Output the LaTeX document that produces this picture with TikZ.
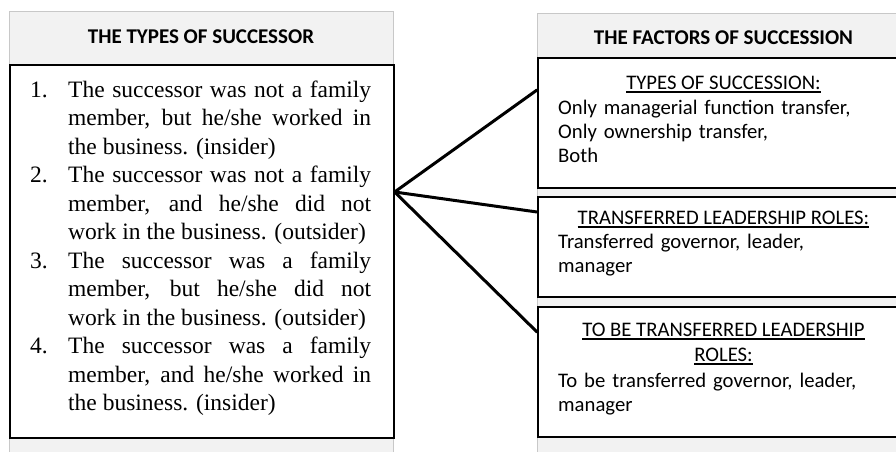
\documentclass[tikz,border=0pt]{standalone}
\usepackage{fontspec}
\setmainfont{Liberation Serif}
\newfontfamily\calib{Carlito}
\definecolor{panelfill}{HTML}{F2F2F2}
\definecolor{panelline}{HTML}{C8C8C8}
\newcommand\ulbox[1]{\setbox0\hbox{#1}\rlap{\rule[-3.5pt]{\wd0}{1.4pt}}\box0}
\newcommand\itemline[2]{\noindent\hangindent=38pt\hangafter=1\makebox[38pt][l]{#1}#2\par}
\begin{document}
\begin{tikzpicture}[x=1pt,y=-1pt,
  panel/.style={fill=panelfill,draw=panelline,line width=1pt},
  whitebox/.style={fill=white,draw=black,line width=1.6pt,rectangle,inner sep=0pt,anchor=north west},
  head/.style={font=\calib\bfseries\fontsize{21}{24}\selectfont,anchor=base,inner sep=0pt},
  body/.style={font=\calib\fontsize{20.7}{24}\selectfont,inner sep=0pt},
  conn/.style={line width=3pt,line cap=round}]
\useasboundingbox (0,0) rectangle (896,452);
\clip (0,0) rectangle (896,452);
% panels
\draw[panel] (9,12) rectangle (393,470);
\draw[panel] (537,14) rectangle (930,470);
\node[head] (lhead) at (201,44) {THE TYPES OF SUCCESSOR};
\node[head] (rhead) at (723.5,45) {THE FACTORS OF SUCCESSION};
% boxes
\node[whitebox,minimum width=384pt,minimum height=373pt] (lbox) at (9,64) {};
\node[whitebox,minimum width=380pt,minimum height=130pt] (b1) at (537,57) {};
\node[whitebox,minimum width=380pt,minimum height=100pt] (b2) at (537,196) {};
\node[whitebox,minimum width=380pt,minimum height=130pt] (b3) at (537,306) {};
% connectors
\coordinate (hub) at ([yshift=-128pt]lbox.north east);
\coordinate (e1) at ([yshift=-33pt]b1.north west);
\coordinate (e2) at ([yshift=-16pt]b2.north west);
\coordinate (e3) at ([yshift=-26pt]b3.north west);
\draw[conn] (hub) -- (e1);
\draw[conn] (hub) -- (e2);
\draw[conn] (hub) -- (e3);
% left text
\node[anchor=base west,inner sep=0pt,text width=341pt,align=justify,
      font=\fontsize{23.5}{28.5}\selectfont] (ltext) at (30,97) {%
\itemline{1.}{The successor was not a family\linebreak member, but he/she worked in\linebreak the business. (insider)}%
\itemline{2.}{The successor was not a family\linebreak member, and he/she did not\linebreak work in the business. (outsider)}%
\itemline{3.}{The successor was a family\linebreak member, but he/she did not\linebreak work in the business. (outsider)}%
\itemline{4.}{The successor was a family\linebreak member, and he/she worked in\linebreak the business. (insider)}};
% right texts
\node[body,anchor=base] (t1) at (723.5,89) {\ulbox{TYPES OF SUCCESSION:}};
\node[body,anchor=base west,text width=331pt,align=left] (d1) at (558,114)
  {Only managerial function transfer,\\Only ownership transfer,\\Both};
\node[body,anchor=base] (t2) at (723.5,224) {\ulbox{TRANSFERRED LEADERSHIP ROLES:}};
\node[body,anchor=base west,text width=331pt,align=left] (d2) at (558,248)
  {Transferred governor, leader,\\manager};
\node[body,anchor=base] (t3a) at (723.5,336) {\ulbox{TO BE TRANSFERRED LEADERSHIP}};
\node[body,anchor=base] (t3b) at (723.5,361) {\ulbox{ROLES:}};
\node[body,anchor=base west,text width=331pt,align=left] (d3) at (558,387)
  {To be transferred governor, leader,\\manager};
\end{tikzpicture}
\end{document}
